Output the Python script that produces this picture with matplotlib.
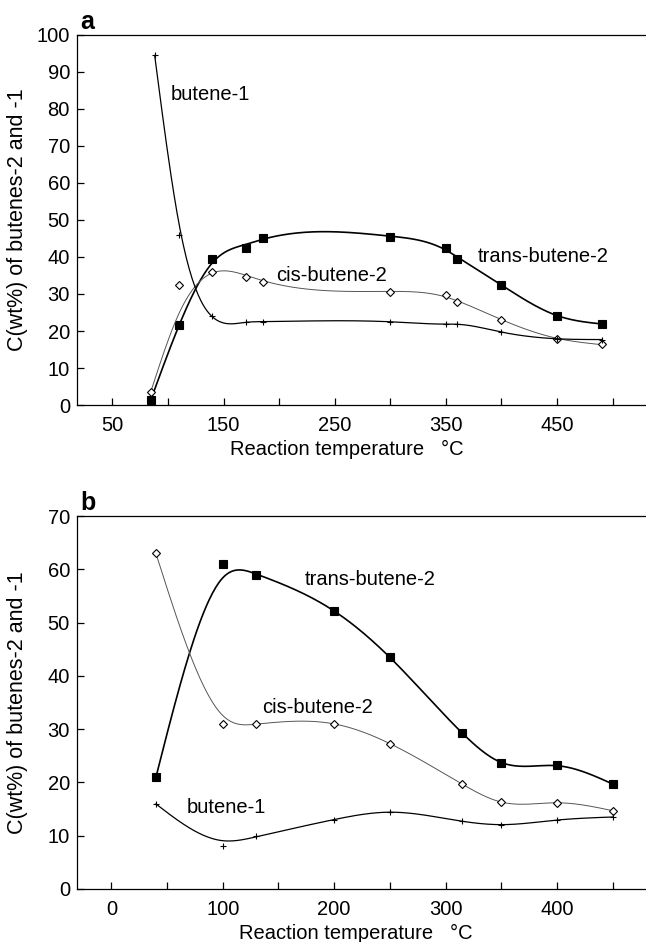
import numpy as np
import matplotlib.pyplot as plt
from matplotlib.ticker import MultipleLocator

plt.rcParams['font.family'] = ['Liberation Sans', 'DejaVu Sans']

# ---- panel a data ----
a_temp = [85, 110, 140, 170, 185, 300, 350, 360, 400, 450, 490]
a_trans = [1.5, 21.5, 39.5, 42.5, 45, 45.5, 42.5, 39.5, 32.5, 24, 22]
a_cis = [3.5, 32.5, 36, 34.5, 33.3, 30.6, 29.7, 27.9, 23, 17.9, 16.4]
a_but1_temp = [88, 110, 140, 170, 185, 300, 350, 360, 400, 450, 490]
a_but1 = [94.5, 46, 24, 22.5, 22.5, 22.5, 21.8, 21.9, 19.7, 17.9, 17.7]

# ---- panel b data ----
b_temp = [40, 100, 130, 200, 250, 315, 350, 400, 450]
b_trans = [21, 61, 59, 52.2, 43.5, 29.3, 23.7, 23.2, 19.7]
b_cis = [63, 31, 31, 31, 27.3, 19.7, 16.3, 16.2, 14.7]
b_but1 = [16, 8, 10, 13, 14.5, 12.7, 12, 13, 13.5]

FS = 14.5


def smooth_spline(x, y, lam, w=None, num=300):
    # weighted cubic smoothing spline (Reinsch)
    x = np.asarray(x, float)
    y = np.asarray(y, float)
    n = len(x)
    if w is None:
        w = np.ones(n)
    x0, x1 = x[0], x[-1]
    t = (x - x0) / (x1 - x0)
    h = np.diff(t)
    Q = np.zeros((n, n - 2))
    R = np.zeros((n - 2, n - 2))
    for j in range(1, n - 1):
        Q[j - 1, j - 1] = 1 / h[j - 1]
        Q[j, j - 1] = -1 / h[j - 1] - 1 / h[j]
        Q[j + 1, j - 1] = 1 / h[j]
        R[j - 1, j - 1] = (h[j - 1] + h[j]) / 3
        if j < n - 2:
            R[j - 1, j] = h[j] / 6
            R[j, j - 1] = h[j] / 6
    Rinv_Qt = np.linalg.solve(R, Q.T)
    K = Q @ Rinv_Qt
    W = np.diag(w)
    g = np.linalg.solve(W + lam * K, W @ y)
    gam = np.concatenate([[0], Rinv_Qt @ g, [0]])
    tt = np.linspace(0, 1, num)
    out = np.empty(num)
    for k, v in enumerate(tt):
        i = min(np.searchsorted(t, v, side='right') - 1, n - 2)
        a, b = v - t[i], t[i + 1] - v
        out[k] = (a * g[i + 1] + b * g[i]) / h[i] - a * b / 6 * (
            (1 + a / h[i]) * gam[i + 1] + (1 + b / h[i]) * gam[i])
    return x0 + tt * (x1 - x0), out


def draw(ax, x, y, marker, lam, w, lw, col, ms, mfc):
    xs, ys = smooth_spline(x, y, lam, w)
    ax.plot(xs, ys, color=col, lw=lw)
    ax.plot(x, y, ls='none', marker=marker, ms=ms, mfc=mfc, mec='black',
            mew=0.8)


def style(ax, xl_pos):
    ax.spines['right'].set_visible(False)
    for s in ['top', 'left', 'bottom']:
        ax.spines[s].set_linewidth(0.9)
    ax.tick_params(which='both', direction='in', labelsize=FS, width=0.9,
                   length=5)
    ax.tick_params(axis='y', right=False, pad=5)
    ax.tick_params(axis='x', top=False, pad=8)
    ax.set_ylabel('C(wt%) of butenes-2 and -1', fontsize=15.5)
    ax.yaxis.set_label_coords(-0.085, 0.5)
    ax.set_xlabel('Reaction temperature   °C', fontsize=FS)
    ax.xaxis.set_label_coords(xl_pos, -0.095)


fig = plt.figure(figsize=(6.46, 9.42), dpi=100)

# panel a
ax1 = fig.add_axes([0.119, 0.570, 0.881, 0.393])
draw(ax1, a_temp, a_trans, 's', 1.5e-5, None, 1.2, 'black', 5.5, 'black')
draw(ax1, a_temp, a_cis, 'D', 3e-5,
     [3, 0.3, 1, 1, 1, 1, 1, 1, 1, 1, 1], 0.7, '#555555', 3.8, 'white')
draw(ax1, a_but1_temp, a_but1, '+', 2e-6,
     [5, 0.2, 0.3, 1, 1, 1, 1, 1, 1, 1, 1], 0.9, 'black', 5, 'black')
ax1.set_xlim(18, 530)
ax1.set_ylim(0, 100)
ax1.set_xticks([50, 150, 250, 350, 450])
ax1.xaxis.set_minor_locator(MultipleLocator(50))
ax1.yaxis.set_major_locator(MultipleLocator(10))
style(ax1, 0.475)
ax1.text(102, 84, 'butene-1', fontsize=FS, va='center')
ax1.text(197, 35, 'cis-butene-2', fontsize=FS, va='center')
ax1.text(379, 40, 'trans-butene-2', fontsize=FS, va='center')
ax1.text(0.006, 1.003, 'a', transform=ax1.transAxes, fontsize=18,
         fontweight='bold', va='bottom')

# panel b
ax2 = fig.add_axes([0.119, 0.0563, 0.881, 0.3957])
draw(ax2, b_temp, b_trans, 's', 3e-6,
     [5, 0.08, 1, 1, 1, 1, 1, 1, 1], 1.2, 'black', 5.5, 'black')
draw(ax2, b_temp, b_cis, 'D', 1.5e-6,
     [5, 0.05, 1, 1, 1, 1, 1, 1, 1], 0.7, '#555555', 3.8, 'white')
draw(ax2, b_temp, b_but1, '+', 2e-5,
     [3, 0.3, 1, 1, 1, 1, 1, 1, 1], 0.9, 'black', 5, 'black')
ax2.set_xlim(-31, 480)
ax2.set_ylim(0, 70)
ax2.set_xticks([0, 100, 200, 300, 400])
ax2.xaxis.set_minor_locator(MultipleLocator(50))
ax2.yaxis.set_major_locator(MultipleLocator(10))
style(ax2, 0.49)
ax2.text(174, 58.2, 'trans-butene-2', fontsize=FS, va='center')
ax2.text(135, 34, 'cis-butene-2', fontsize=FS, va='center')
ax2.text(68, 15.3, 'butene-1', fontsize=FS, va='center')
ax2.text(0.006, 1.003, 'b', transform=ax2.transAxes, fontsize=18,
         fontweight='bold', va='bottom')

fig.savefig('out.png', dpi=100)
